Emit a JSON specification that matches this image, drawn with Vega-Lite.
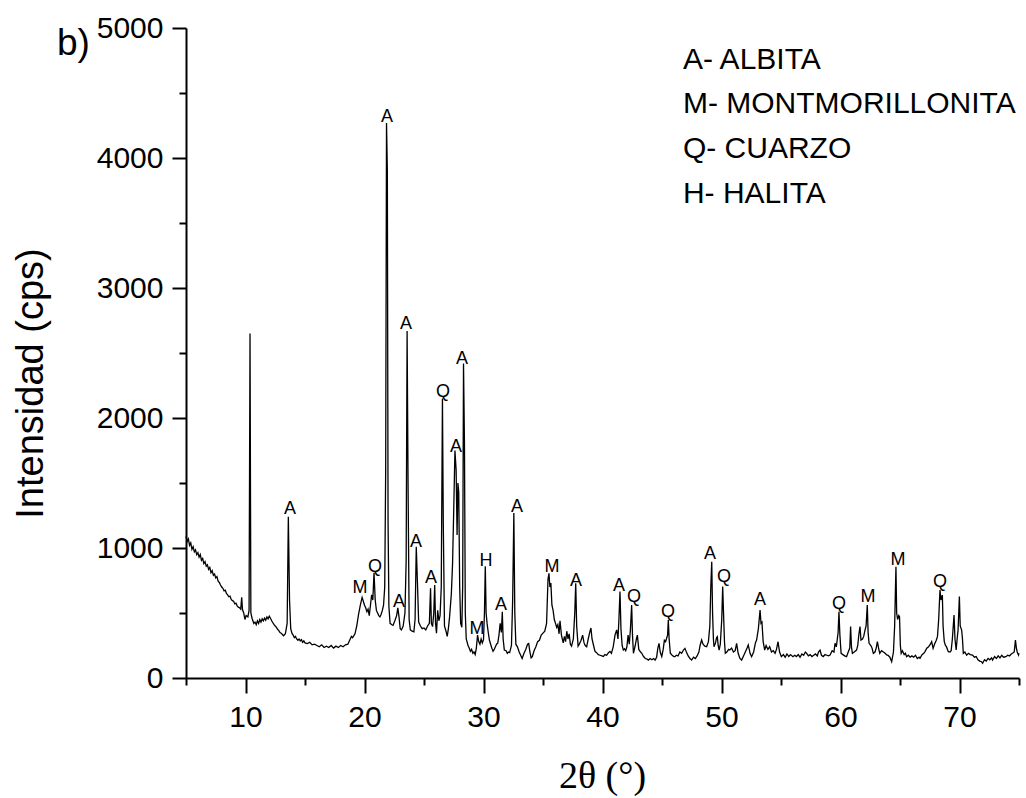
{
  "$schema": "https://vega.github.io/schema/vega-lite/v6.json",
  "width": 833,
  "height": 650,
  "autosize": {"type": "none"},
  "padding": {"left": 186, "top": 28, "right": 7, "bottom": 120},
  "background": "white",
  "config": {
    "view": {"stroke": null},
    "font": "Liberation Sans",
    "axis": {
      "grid": false,
      "domainColor": "black",
      "domainWidth": 2,
      "tickColor": "black",
      "tickWidth": 2,
      "labelColor": "black",
      "labelFont": "Liberation Sans",
      "labelFontSize": 30,
      "titleColor": "black",
      "titleFontWeight": "normal"
    }
  },
  "datasets": {
    "xrd": [
      {"t":5.0,"i":1090},{"t":5.1,"i":1050},{"t":5.2,"i":1070},{"t":5.3,"i":1020},{"t":5.4,"i":1040},{"t":5.5,"i":990},{"t":5.6,"i":1010},{"t":5.7,"i":970},{"t":5.8,"i":985},{"t":5.9,"i":950},
      {"t":6.0,"i":965},{"t":6.1,"i":930},{"t":6.2,"i":950},{"t":6.3,"i":905},{"t":6.4,"i":920},{"t":6.5,"i":880},{"t":6.6,"i":895},{"t":6.7,"i":860},{"t":6.8,"i":870},{"t":6.9,"i":835},
      {"t":7.0,"i":850},{"t":7.1,"i":810},{"t":7.2,"i":825},{"t":7.3,"i":790},{"t":7.4,"i":800},{"t":7.5,"i":770},{"t":7.6,"i":780},{"t":7.7,"i":745},{"t":7.8,"i":735},{"t":7.9,"i":715},
      {"t":8.0,"i":700},{"t":8.1,"i":690},{"t":8.2,"i":670},{"t":8.3,"i":675},{"t":8.4,"i":650},{"t":8.5,"i":640},{"t":8.6,"i":625},{"t":8.7,"i":630},{"t":8.8,"i":605},{"t":8.9,"i":595},
      {"t":9.0,"i":590},{"t":9.1,"i":570},{"t":9.2,"i":575},{"t":9.3,"i":555},{"t":9.4,"i":545},{"t":9.5,"i":540},{"t":9.6,"i":530},{"t":9.68,"i":620},{"t":9.75,"i":525},{"t":9.85,"i":500},
      {"t":9.95,"i":450},{"t":10.05,"i":480},{"t":10.2,"i":470},{"t":10.3,"i":520},{"t":10.38,"i":2650},{"t":10.45,"i":500},{"t":10.55,"i":460},{"t":10.7,"i":420},{"t":10.8,"i":430},{"t":10.9,"i":410},
      {"t":11.0,"i":440},{"t":11.1,"i":420},{"t":11.2,"i":450},{"t":11.3,"i":430},{"t":11.4,"i":455},{"t":11.5,"i":440},{"t":11.6,"i":460},{"t":11.7,"i":445},{"t":11.8,"i":470},{"t":11.9,"i":455},
      {"t":12.0,"i":475},{"t":12.1,"i":460},{"t":12.2,"i":440},{"t":12.3,"i":425},{"t":12.4,"i":410},{"t":12.5,"i":400},{"t":12.6,"i":390},{"t":12.7,"i":375},{"t":12.8,"i":365},{"t":12.9,"i":350},
      {"t":13.0,"i":345},{"t":13.1,"i":335},{"t":13.2,"i":325},{"t":13.35,"i":340},{"t":13.5,"i":420},{"t":13.6,"i":1240},{"t":13.7,"i":600},{"t":13.8,"i":380},{"t":13.9,"i":345},{"t":14.0,"i":330},
      {"t":14.1,"i":310},{"t":14.2,"i":320},{"t":14.3,"i":300},{"t":14.4,"i":290},{"t":14.5,"i":300},{"t":14.6,"i":285},{"t":14.7,"i":295},{"t":14.8,"i":275},{"t":14.9,"i":285},{"t":15.0,"i":270},
      {"t":15.2,"i":265},{"t":15.4,"i":275},{"t":15.6,"i":255},{"t":15.8,"i":260},{"t":16.0,"i":250},{"t":16.2,"i":240},{"t":16.4,"i":255},{"t":16.6,"i":235},{"t":16.8,"i":245},{"t":17.0,"i":235},
      {"t":17.2,"i":250},{"t":17.4,"i":230},{"t":17.6,"i":245},{"t":17.8,"i":235},{"t":18.0,"i":250},{"t":18.2,"i":240},{"t":18.4,"i":255},{"t":18.6,"i":260},{"t":18.8,"i":300},{"t":18.9,"i":320},
      {"t":19.0,"i":310},{"t":19.2,"i":340},{"t":19.35,"i":400},{"t":19.5,"i":490},{"t":19.65,"i":560},{"t":19.8,"i":620},{"t":19.9,"i":590},{"t":20.0,"i":560},{"t":20.1,"i":540},{"t":20.2,"i":510},
      {"t":20.3,"i":530},{"t":20.4,"i":480},{"t":20.5,"i":560},{"t":20.6,"i":640},{"t":20.7,"i":600},{"t":20.8,"i":810},{"t":20.9,"i":600},{"t":21.0,"i":520},{"t":21.1,"i":500},{"t":21.2,"i":480},
      {"t":21.3,"i":470},{"t":21.4,"i":490},{"t":21.5,"i":520},{"t":21.6,"i":560},{"t":21.7,"i":700},{"t":21.78,"i":1600},{"t":21.85,"i":4270},{"t":21.92,"i":3900},{"t":21.98,"i":1200},{"t":22.05,"i":550},
      {"t":22.15,"i":420},{"t":22.3,"i":410},{"t":22.4,"i":405},{"t":22.55,"i":440},{"t":22.7,"i":480},{"t":22.8,"i":540},{"t":22.9,"i":470},{"t":23.0,"i":380},{"t":23.1,"i":370},{"t":23.25,"i":400},
      {"t":23.4,"i":500},{"t":23.5,"i":900},{"t":23.58,"i":2670},{"t":23.66,"i":1500},{"t":23.75,"i":450},{"t":23.85,"i":370},{"t":24.0,"i":360},{"t":24.15,"i":355},{"t":24.25,"i":450},{"t":24.35,"i":1010},
      {"t":24.45,"i":730},{"t":24.55,"i":430},{"t":24.7,"i":400},{"t":24.85,"i":380},{"t":25.0,"i":385},{"t":25.15,"i":370},{"t":25.3,"i":400},{"t":25.45,"i":420},{"t":25.55,"i":690},{"t":25.62,"i":420},
      {"t":25.72,"i":395},{"t":25.82,"i":500},{"t":25.9,"i":715},{"t":25.97,"i":420},{"t":26.05,"i":345},{"t":26.15,"i":520},{"t":26.25,"i":440},{"t":26.35,"i":480},{"t":26.45,"i":700},{"t":26.55,"i":2150},
      {"t":26.62,"i":1200},{"t":26.72,"i":400},{"t":26.85,"i":360},{"t":26.95,"i":320},{"t":27.05,"i":380},{"t":27.15,"i":470},{"t":27.3,"i":650},{"t":27.4,"i":880},{"t":27.5,"i":1300},{"t":27.6,"i":1750},
      {"t":27.7,"i":1600},{"t":27.78,"i":1100},{"t":27.85,"i":1500},{"t":27.92,"i":1430},{"t":28.0,"i":700},{"t":28.08,"i":420},{"t":28.18,"i":390},{"t":28.25,"i":700},{"t":28.32,"i":2420},{"t":28.4,"i":1800},
      {"t":28.47,"i":500},{"t":28.55,"i":300},{"t":28.7,"i":250},{"t":28.8,"i":230},{"t":28.9,"i":205},{"t":29.0,"i":220},{"t":29.1,"i":190},{"t":29.2,"i":200},{"t":29.3,"i":180},{"t":29.4,"i":230},
      {"t":29.5,"i":330},{"t":29.6,"i":280},{"t":29.7,"i":260},{"t":29.8,"i":300},{"t":29.9,"i":270},{"t":30.0,"i":295},{"t":30.08,"i":500},{"t":30.15,"i":860},{"t":30.22,"i":500},{"t":30.3,"i":420},
      {"t":30.4,"i":350},{"t":30.5,"i":290},{"t":30.6,"i":260},{"t":30.7,"i":230},{"t":30.8,"i":205},{"t":30.9,"i":220},{"t":31.0,"i":240},{"t":31.1,"i":260},{"t":31.2,"i":270},{"t":31.3,"i":330},
      {"t":31.4,"i":420},{"t":31.5,"i":350},{"t":31.58,"i":510},{"t":31.65,"i":300},{"t":31.75,"i":215},{"t":31.9,"i":210},{"t":32.0,"i":190},{"t":32.1,"i":200},{"t":32.2,"i":195},{"t":32.35,"i":250},
      {"t":32.45,"i":600},{"t":32.55,"i":1270},{"t":32.63,"i":500},{"t":32.72,"i":260},{"t":32.85,"i":240},{"t":33.0,"i":200},{"t":33.15,"i":170},{"t":33.25,"i":150},{"t":33.4,"i":190},{"t":33.55,"i":220},
      {"t":33.7,"i":260},{"t":33.8,"i":265},{"t":33.9,"i":200},{"t":34.0,"i":155},{"t":34.1,"i":165},{"t":34.25,"i":210},{"t":34.4,"i":240},{"t":34.55,"i":280},{"t":34.7,"i":290},{"t":34.85,"i":330},
      {"t":35.0,"i":345},{"t":35.15,"i":360},{"t":35.3,"i":420},{"t":35.42,"i":760},{"t":35.5,"i":805},{"t":35.58,"i":700},{"t":35.66,"i":730},{"t":35.75,"i":560},{"t":35.85,"i":520},{"t":35.95,"i":450},
      {"t":36.05,"i":420},{"t":36.15,"i":390},{"t":36.25,"i":410},{"t":36.35,"i":340},{"t":36.43,"i":440},{"t":36.55,"i":330},{"t":36.7,"i":270},{"t":36.8,"i":320},{"t":36.9,"i":280},{"t":37.0,"i":360},
      {"t":37.1,"i":300},{"t":37.2,"i":340},{"t":37.3,"i":260},{"t":37.4,"i":245},{"t":37.55,"i":300},{"t":37.67,"i":500},{"t":37.75,"i":728},{"t":37.83,"i":400},{"t":37.95,"i":245},{"t":38.05,"i":260},
      {"t":38.2,"i":290},{"t":38.33,"i":330},{"t":38.45,"i":270},{"t":38.55,"i":250},{"t":38.67,"i":240},{"t":38.8,"i":300},{"t":38.95,"i":360},{"t":39.03,"i":385},{"t":39.12,"i":300},{"t":39.25,"i":250},
      {"t":39.37,"i":205},{"t":39.5,"i":195},{"t":39.65,"i":180},{"t":39.8,"i":175},{"t":39.95,"i":170},{"t":40.07,"i":165},{"t":40.2,"i":180},{"t":40.35,"i":175},{"t":40.5,"i":195},{"t":40.63,"i":205},
      {"t":40.75,"i":190},{"t":40.9,"i":240},{"t":41.05,"i":330},{"t":41.19,"i":370},{"t":41.3,"i":300},{"t":41.38,"i":450},{"t":41.47,"i":665},{"t":41.55,"i":380},{"t":41.65,"i":250},{"t":41.75,"i":215},
      {"t":41.85,"i":225},{"t":41.95,"i":210},{"t":42.05,"i":240},{"t":42.15,"i":330},{"t":42.25,"i":260},{"t":42.35,"i":380},{"t":42.45,"i":562},{"t":42.52,"i":330},{"t":42.6,"i":190},{"t":42.75,"i":250},
      {"t":42.85,"i":300},{"t":42.93,"i":330},{"t":43.05,"i":220},{"t":43.2,"i":200},{"t":43.3,"i":190},{"t":43.45,"i":165},{"t":43.6,"i":150},{"t":43.75,"i":145},{"t":43.86,"i":138},{"t":44.0,"i":150},
      {"t":44.15,"i":140},{"t":44.3,"i":150},{"t":44.42,"i":138},{"t":44.55,"i":160},{"t":44.65,"i":230},{"t":44.75,"i":267},{"t":44.85,"i":200},{"t":44.98,"i":165},{"t":45.1,"i":220},{"t":45.2,"i":290},
      {"t":45.3,"i":280},{"t":45.4,"i":310},{"t":45.47,"i":330},{"t":45.53,"i":446},{"t":45.6,"i":300},{"t":45.7,"i":190},{"t":45.85,"i":175},{"t":46.0,"i":165},{"t":46.09,"i":164},{"t":46.2,"i":175},
      {"t":46.35,"i":170},{"t":46.5,"i":200},{"t":46.65,"i":190},{"t":46.8,"i":215},{"t":46.93,"i":228},{"t":47.05,"i":200},{"t":47.2,"i":170},{"t":47.35,"i":150},{"t":47.49,"i":138},{"t":47.65,"i":160},
      {"t":47.8,"i":150},{"t":47.95,"i":170},{"t":48.1,"i":200},{"t":48.2,"i":250},{"t":48.33,"i":292},{"t":48.45,"i":260},{"t":48.6,"i":245},{"t":48.75,"i":241},{"t":48.9,"i":280},{"t":49.02,"i":400},
      {"t":49.1,"i":700},{"t":49.18,"i":895},{"t":49.25,"i":500},{"t":49.32,"i":300},{"t":49.37,"i":241},{"t":49.5,"i":270},{"t":49.58,"i":310},{"t":49.65,"i":318},{"t":49.72,"i":250},{"t":49.8,"i":215},
      {"t":49.9,"i":260},{"t":50.02,"i":450},{"t":50.1,"i":703},{"t":50.17,"i":500},{"t":50.25,"i":280},{"t":50.32,"i":190},{"t":50.45,"i":200},{"t":50.6,"i":220},{"t":50.7,"i":215},{"t":50.85,"i":230},
      {"t":51.0,"i":200},{"t":51.15,"i":210},{"t":51.27,"i":267},{"t":51.4,"i":190},{"t":51.55,"i":150},{"t":51.69,"i":138},{"t":51.85,"i":170},{"t":52.0,"i":200},{"t":52.15,"i":230},{"t":52.25,"i":254},
      {"t":52.4,"i":190},{"t":52.53,"i":164},{"t":52.7,"i":200},{"t":52.85,"i":270},{"t":52.95,"i":292},{"t":53.1,"i":380},{"t":53.24,"i":523},{"t":53.32,"i":421},{"t":53.4,"i":430},{"t":53.5,"i":280},
      {"t":53.63,"i":215},{"t":53.75,"i":250},{"t":53.9,"i":220},{"t":54.05,"i":241},{"t":54.2,"i":200},{"t":54.35,"i":210},{"t":54.5,"i":190},{"t":54.62,"i":220},{"t":54.75,"i":279},{"t":54.88,"i":200},
      {"t":55.03,"i":164},{"t":55.2,"i":180},{"t":55.35,"i":160},{"t":55.5,"i":185},{"t":55.65,"i":165},{"t":55.8,"i":180},{"t":56.0,"i":164},{"t":56.15,"i":175},{"t":56.3,"i":165},{"t":56.45,"i":180},
      {"t":56.6,"i":160},{"t":56.75,"i":185},{"t":56.9,"i":175},{"t":57.05,"i":200},{"t":57.16,"i":190},{"t":57.3,"i":170},{"t":57.45,"i":180},{"t":57.6,"i":165},{"t":57.75,"i":175},{"t":57.9,"i":185},
      {"t":58.05,"i":170},{"t":58.15,"i":200},{"t":58.28,"i":215},{"t":58.4,"i":175},{"t":58.55,"i":165},{"t":58.7,"i":180},{"t":58.85,"i":175},{"t":59.0,"i":170},{"t":59.12,"i":177},{"t":59.3,"i":210},
      {"t":59.45,"i":200},{"t":59.54,"i":267},{"t":59.65,"i":240},{"t":59.8,"i":350},{"t":59.87,"i":510},{"t":59.95,"i":330},{"t":60.05,"i":190},{"t":60.2,"i":180},{"t":60.35,"i":170},{"t":60.51,"i":164},
      {"t":60.65,"i":200},{"t":60.78,"i":230},{"t":60.85,"i":395},{"t":60.92,"i":240},{"t":61.0,"i":190},{"t":61.15,"i":200},{"t":61.35,"i":215},{"t":61.45,"i":250},{"t":61.55,"i":340},{"t":61.64,"i":395},
      {"t":61.72,"i":292},{"t":61.85,"i":300},{"t":61.95,"i":320},{"t":62.06,"i":369},{"t":62.15,"i":400},{"t":62.25,"i":562},{"t":62.32,"i":350},{"t":62.4,"i":267},{"t":62.55,"i":250},{"t":62.65,"i":230},
      {"t":62.76,"i":190},{"t":62.9,"i":200},{"t":63.0,"i":230},{"t":63.1,"i":279},{"t":63.2,"i":230},{"t":63.3,"i":190},{"t":63.45,"i":210},{"t":63.6,"i":200},{"t":63.75,"i":190},{"t":63.88,"i":177},
      {"t":64.0,"i":175},{"t":64.15,"i":160},{"t":64.3,"i":126},{"t":64.45,"i":200},{"t":64.55,"i":400},{"t":64.62,"i":700},{"t":64.66,"i":856},{"t":64.72,"i":500},{"t":64.8,"i":450},{"t":64.9,"i":480},
      {"t":64.96,"i":472},{"t":65.03,"i":250},{"t":65.1,"i":190},{"t":65.2,"i":210},{"t":65.35,"i":180},{"t":65.45,"i":190},{"t":65.56,"i":164},{"t":65.7,"i":175},{"t":65.85,"i":160},{"t":66.0,"i":170},
      {"t":66.15,"i":160},{"t":66.3,"i":175},{"t":66.45,"i":150},{"t":66.6,"i":160},{"t":66.68,"i":151},{"t":66.85,"i":180},{"t":67.0,"i":190},{"t":67.1,"i":203},{"t":67.25,"i":230},{"t":67.4,"i":240},
      {"t":67.55,"i":260},{"t":67.66,"i":279},{"t":67.78,"i":228},{"t":67.9,"i":260},{"t":68.05,"i":290},{"t":68.15,"i":320},{"t":68.25,"i":450},{"t":68.36,"i":677},{"t":68.45,"i":600},{"t":68.56,"i":638},
      {"t":68.62,"i":400},{"t":68.72,"i":280},{"t":68.82,"i":250},{"t":68.9,"i":241},{"t":69.06,"i":203},{"t":69.2,"i":200},{"t":69.3,"i":210},{"t":69.4,"i":300},{"t":69.54,"i":485},{"t":69.62,"i":300},
      {"t":69.72,"i":215},{"t":69.8,"i":300},{"t":69.88,"i":369},{"t":69.99,"i":626},{"t":70.06,"i":400},{"t":70.18,"i":369},{"t":70.25,"i":300},{"t":70.32,"i":190},{"t":70.45,"i":200},{"t":70.6,"i":175},
      {"t":70.75,"i":190},{"t":70.9,"i":180},{"t":71.1,"i":177},{"t":71.25,"i":160},{"t":71.4,"i":165},{"t":71.55,"i":140},{"t":71.7,"i":130},{"t":71.85,"i":125},{"t":71.94,"i":113},{"t":72.1,"i":140},
      {"t":72.25,"i":130},{"t":72.4,"i":150},{"t":72.55,"i":140},{"t":72.7,"i":155},{"t":72.78,"i":138},{"t":72.95,"i":165},{"t":73.1,"i":150},{"t":73.25,"i":170},{"t":73.4,"i":155},{"t":73.55,"i":175},
      {"t":73.7,"i":160},{"t":73.9,"i":164},{"t":74.05,"i":175},{"t":74.2,"i":170},{"t":74.35,"i":185},{"t":74.46,"i":190},{"t":74.6,"i":200},{"t":74.7,"i":292},{"t":74.78,"i":230},{"t":74.85,"i":200},
      {"t":74.96,"i":177},{"t":75.0,"i":190}
    ],
    "peaks": [
      {"t":13.74,"i":1262,"label":"A"},
      {"t":19.62,"i":654,"label":"M"},
      {"t":20.88,"i":815,"label":"Q"},
      {"t":22.9,"i":546,"label":"A"},
      {"t":21.9,"i":4277,"label":"A"},
      {"t":23.49,"i":2685,"label":"A"},
      {"t":24.33,"i":1008,"label":"A"},
      {"t":25.59,"i":731,"label":"A"},
      {"t":26.6,"i":2162,"label":"Q"},
      {"t":27.69,"i":1738,"label":"A"},
      {"t":28.19,"i":2415,"label":"A"},
      {"t":29.45,"i":338,"label":"M"},
      {"t":30.21,"i":862,"label":"H"},
      {"t":31.47,"i":523,"label":"A"},
      {"t":32.82,"i":1277,"label":"A"},
      {"t":35.76,"i":815,"label":"M"},
      {"t":37.77,"i":708,"label":"A"},
      {"t":41.39,"i":669,"label":"A"},
      {"t":42.65,"i":585,"label":"Q"},
      {"t":45.5,"i":469,"label":"Q"},
      {"t":49.03,"i":915,"label":"A"},
      {"t":50.21,"i":738,"label":"Q"},
      {"t":53.24,"i":562,"label":"A"},
      {"t":59.87,"i":531,"label":"Q"},
      {"t":62.31,"i":585,"label":"M"},
      {"t":64.83,"i":869,"label":"M"},
      {"t":68.36,"i":700,"label":"Q"}
    ],
    "legend": [
      {"t":46.76,"i":4685,"label":"A- ALBITA"},
      {"t":46.76,"i":4346,"label":"M- MONTMORILLONITA"},
      {"t":46.76,"i":4000,"label":"Q- CUARZO"},
      {"t":46.76,"i":3654,"label":"H- HALITA"}
    ],
    "panel": [
      {"t":-5.84,"i":4792,"label":"b)"}
    ]
  },
  "layer": [
    {
      "data": {"name": "xrd"},
      "mark": {"type": "line", "color": "black", "strokeWidth": 1.3, "interpolate": "linear"},
      "encoding": {
        "x": {
          "field": "t", "type": "quantitative",
          "scale": {"domain": [5, 75], "nice": false, "zero": false},
          "axis": {
            "title": "2θ (°)",
            "titleFont": "Liberation Serif",
            "titleFontSize": 38,
            "titleX": 416,
            "titleY": 109,
            "titleBaseline": "alphabetic",
            "titleAlign": "center",
            "values": [5,10,15,20,25,30,35,40,45,50,55,60,65,70,75],
            "labelExpr": "datum.value % 10 === 0 ? datum.label : ''",
            "tickSize": {"condition": {"test": "datum.value % 10 !== 0", "value": 7}, "value": 15},
            "labelPadding": 9,
            "labelFlush": false,
            "labelOverlap": false,
            "format": "d"
          }
        },
        "y": {
          "field": "i", "type": "quantitative",
          "scale": {"domain": [0, 5000], "nice": false},
          "axis": {
            "title": "Intensidad (cps)",
            "titleFont": "Liberation Sans",
            "titleFontSize": 38,
            "titleAngle": -90,
            "titleX": -144,
            "titleY": 355,
            "titleBaseline": "alphabetic",
            "titleAlign": "center",
            "values": [0,500,1000,1500,2000,2500,3000,3500,4000,4500,5000],
            "labelExpr": "datum.value % 1000 === 0 ? datum.label : ''",
            "tickSize": {"condition": {"test": "datum.value % 1000 !== 0", "value": 7}, "value": 14},
            "labelPadding": 9,
            "labelFlush": false,
            "labelOverlap": false,
            "format": "d"
          }
        }
      }
    },
    {
      "data": {"name": "peaks"},
      "mark": {"type": "text", "font": "Liberation Sans", "fontSize": 18, "color": "black", "align": "center", "baseline": "alphabetic"},
      "encoding": {
        "x": {"field": "t", "type": "quantitative"},
        "y": {"field": "i", "type": "quantitative"},
        "text": {"field": "label"}
      }
    },
    {
      "data": {"name": "legend"},
      "mark": {"type": "text", "font": "Liberation Sans", "fontSize": 30, "color": "black", "align": "left", "baseline": "alphabetic"},
      "encoding": {
        "x": {"field": "t", "type": "quantitative"},
        "y": {"field": "i", "type": "quantitative"},
        "text": {"field": "label"}
      }
    },
    {
      "data": {"name": "panel"},
      "mark": {"type": "text", "font": "Liberation Sans", "fontSize": 37, "color": "black", "align": "left", "baseline": "alphabetic"},
      "encoding": {
        "x": {"field": "t", "type": "quantitative"},
        "y": {"field": "i", "type": "quantitative"},
        "text": {"field": "label"}
      }
    }
  ]
}
